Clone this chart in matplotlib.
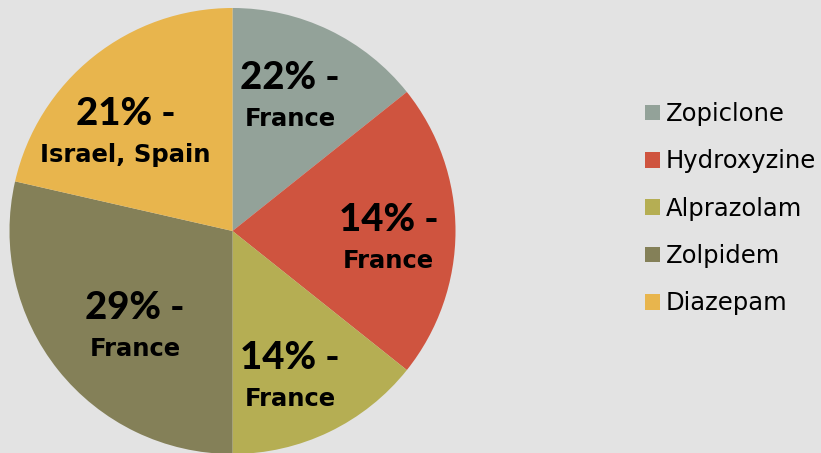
import matplotlib.pyplot as plt
from matplotlib.patches import Patch

plt.rcParams['font.family'] = ['Lato', 'DejaVu Sans']

# slice sizes as drawn, clockwise from 12 o'clock
drugs = ['Zopiclone', 'Hydroxyzine', 'Alprazolam', 'Zolpidem', 'Diazepam']
shares = [14, 21, 14, 28, 21]
colors = ['#93A299', '#CF543F', '#B5AE53', '#848058', '#E8B54D']

# label text printed on each slice
pct_text = ['22% -', '14% -', '14% -', '29% -', '21% -']
country_text = ['France', 'France', 'France', 'France', 'Israel, Spain']
# baseline of the first label line (pie data units)
label_pos = [(0.258, 0.636), (0.699, 0.002), (0.258, -0.618),
             (-0.438, -0.393), (-0.479, 0.474)]

BG = '#e3e3e3'

fig = plt.figure(figsize=(8.21, 4.53), dpi=100, facecolor=BG)
ax = fig.add_axes([9.5 / 821, -1 / 453, 446 / 821, 446 / 453])
ax.set_facecolor(BG)

wedges, _ = ax.pie(
    shares,
    colors=colors,
    startangle=90,
    counterclock=False,
    radius=1.0,
    wedgeprops={'linewidth': 0},
)
ax.set_xlim(-1, 1)
ax.set_ylim(-1, 1)
ax.set_aspect('equal')
ax.set_axis_off()

for (x, y), top, bottom in zip(label_pos, pct_text, country_text):
    ax.text(x, y, top, ha='center', va='baseline',
            fontsize=27.5, fontweight='black', color='black', family='Lato')
    ax.annotate(bottom, xy=(x, y), xytext=(0, -37), textcoords='offset pixels',
                ha='center', va='baseline', fontsize=17.5, fontweight='bold',
                color='black', family='DejaVu Sans')

handles = [Patch(facecolor=c, edgecolor='none') for c in colors]
fig.legend(
    handles,
    drugs,
    loc='upper left',
    bbox_to_anchor=(645 / 821, 1 - 102 / 453),
    frameon=False,
    prop={'family': 'DejaVu Sans', 'size': 17.5},
    handlelength=0.62,
    handleheight=0.62,
    handletextpad=0.22,
    labelspacing=0.96,
    borderaxespad=0,
    borderpad=0,
)

fig.savefig('out.png', dpi=100, facecolor=BG)
